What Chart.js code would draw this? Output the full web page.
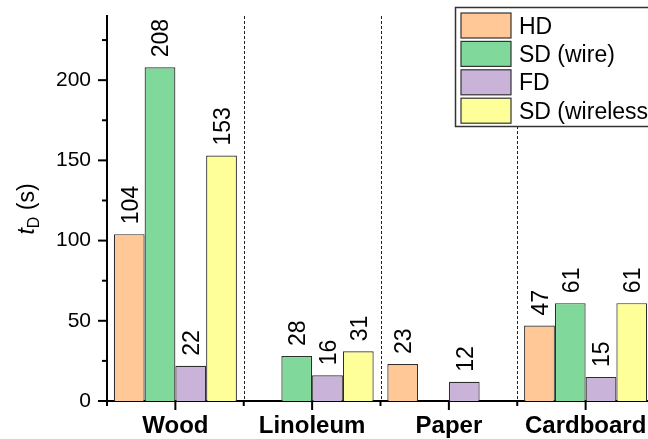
<!DOCTYPE html>
<html>
<head>
<meta charset="utf-8">
<script src="https://cdn.jsdelivr.net/npm/chart.js@4/dist/chart.umd.min.js"></script>
<style>
  html, body { margin: 0; padding: 0; overflow: hidden; background: #fff; }
  canvas { display: block; }
</style>
</head>
<body>
<canvas id="chart" width="660" height="439"></canvas>
<script>
// Detachment time per surface and detection method
const categories = ['Wood', 'Linoleum', 'Paper', 'Cardboard'];
const seriesNames = ['HD', 'SD (wire)', 'FD', 'SD (wireless)'];
const hdValues = [104, null, 23, 47];
const sdWireValues = [208, 28, null, 61];
const fdValues = [22, 16, 12, 15];
const sdWirelessValues = [153, 31, null, 61];
const yMajorTicks = [0, 50, 100, 150, 200];
const yMinorTicks = [25, 75, 125, 175, 225];
const yMax = 240;

const seriesColors = ['#FFC896', '#80D99B', '#C9B3D8', '#FFFF99'];
const seriesValues = [hdValues, sdWireValues, fdValues, sdWirelessValues];

const FONT = '"Liberation Sans", Arial, Helvetica, sans-serif';
const INK = '#000';

// Axis tick marks, dashed group separators, value labels, legend and y title
const decorations = {
  id: 'decorations',
  afterDatasetsDraw(chart) {
    const ctx = chart.ctx;
    const area = chart.chartArea;
    const xs = chart.scales.x;
    const ys = chart.scales.y;

    ctx.save();
    // dashed separators between surface groups
    ctx.strokeStyle = '#222';
    ctx.lineWidth = 1;
    ctx.setLineDash([3, 2]);
    for (let i = 0; i < categories.length - 1; i++) {
      const x = Math.round((xs.getPixelForValue(i) + xs.getPixelForValue(i + 1)) / 2) + 0.5;
      ctx.beginPath();
      ctx.moveTo(x, area.top);
      ctx.lineTo(x, area.bottom);
      ctx.stroke();
    }
    ctx.setLineDash([]);

    // y tick marks (major and minor, pointing outward)
    ctx.strokeStyle = INK;
    ctx.lineWidth = 2;
    const ax = area.left;
    yMajorTicks.forEach(v => {
      const y = ys.getPixelForValue(v);
      ctx.beginPath(); ctx.moveTo(ax - 9, y); ctx.lineTo(ax, y); ctx.stroke();
    });
    yMinorTicks.forEach(v => {
      const y = ys.getPixelForValue(v);
      ctx.beginPath(); ctx.moveTo(ax - 5, y); ctx.lineTo(ax, y); ctx.stroke();
    });

    // x tick marks: major at group centres, minor at group edges
    const by = area.bottom;
    categories.forEach((c, i) => {
      const x = xs.getPixelForValue(i);
      ctx.beginPath(); ctx.moveTo(x, by); ctx.lineTo(x, by + 9); ctx.stroke();
    });
    for (let i = 0; i <= categories.length; i++) {
      const x = i === 0 ? area.left
        : (i === categories.length ? area.right
          : (xs.getPixelForValue(i - 1) + xs.getPixelForValue(i)) / 2);
      ctx.beginPath(); ctx.moveTo(x, by); ctx.lineTo(x, by + 5); ctx.stroke();
    }

    // value labels above bars, rotated
    ctx.fillStyle = INK;
    ctx.font = '23px ' + FONT;
    ctx.textAlign = 'left';
    ctx.textBaseline = 'alphabetic';
    chart.data.datasets.forEach((ds, di) => {
      const meta = chart.getDatasetMeta(di);
      meta.data.forEach((bar, i) => {
        const v = ds.data[i];
        if (v === null || v === undefined) return;
        ctx.save();
        ctx.translate(bar.x, bar.y - 10);
        ctx.rotate(-Math.PI / 2);
        ctx.fillText(String(v), 0, 8.3);
        ctx.restore();
      });
    });

    // legend box
    const lx = 455, ly = 7, lh = 119;
    ctx.fillStyle = '#fff';
    ctx.fillRect(lx, ly, chart.width - lx + 10, lh);
    ctx.strokeStyle = '#333';
    ctx.lineWidth = 1.5;
    ctx.strokeRect(lx + 0.5, ly + 0.5, chart.width, lh);
    chart.data.datasets.forEach((ds, di) => {
      const sy = 13 + di * 28.4;
      ctx.fillStyle = ds.backgroundColor;
      ctx.fillRect(461, sy, 50, 25);
      ctx.strokeStyle = '#333';
      ctx.lineWidth = 1.2;
      ctx.strokeRect(461, sy, 50, 25);
      ctx.fillStyle = INK;
      ctx.font = '23px ' + FONT;
      ctx.textBaseline = 'alphabetic';
      ctx.fillText(ds.label, 519, sy + 20.5);
    });

    // y axis title: t_D (s)
    ctx.save();
    ctx.translate(34, 209);
    ctx.rotate(-Math.PI / 2);
    ctx.textBaseline = 'alphabetic';
    ctx.fillStyle = INK;
    const fMain = '23px ' + FONT, fItal = 'italic 23px ' + FONT, fSub = '16px ' + FONT;
    ctx.font = fItal; const wT = ctx.measureText('t').width;
    ctx.font = fSub; const wD = ctx.measureText('D').width;
    ctx.font = fMain; const wS = ctx.measureText(' (s)').width;
    let tx = -(wT + wD + wS) / 2;
    ctx.font = fItal; ctx.fillText('t', tx, 0); tx += wT;
    ctx.font = fSub; ctx.fillText('D', tx, 5); tx += wD;
    ctx.font = fMain; ctx.fillText(' (s)', tx, 0);
    ctx.restore();

    ctx.restore();
  }
};

new Chart(document.getElementById('chart'), {
  type: 'bar',
  data: {
    labels: categories,
    datasets: seriesNames.map((name, i) => ({
      label: name,
      data: seriesValues[i],
      backgroundColor: seriesColors[i],
      borderColor: '#2e2e2e',
      borderWidth: 1.2,
      categoryPercentage: 0.9,
      barPercentage: 1.0
    }))
  },
  options: {
    responsive: false,
    animation: false,
    devicePixelRatio: 1,
    layout: { padding: { top: 16, right: 6, left: 0, bottom: 0 } },
    plugins: { legend: { display: false }, tooltip: { enabled: false } },
    scales: {
      x: {
        grid: { display: false, drawTicks: false },
        border: { display: true, color: INK, width: 2 },
        ticks: { color: INK, padding: 11, font: { family: FONT, size: 24, weight: 'bold' } },
        afterFit(scale) {
          scale.height = 38;
          scale.paddingLeft = 0;
          scale.paddingRight = 0;
        }
      },
      y: {
        min: 0,
        max: yMax,
        grid: { display: false, drawTicks: false },
        border: { display: true, color: INK, width: 2 },
        ticks: {
          color: INK,
          padding: 16,
          font: { family: FONT, size: 21 },
          stepSize: 50,
          callback: v => (yMajorTicks.includes(v) ? String(v) : '')
        },
        afterFit(scale) {
          scale.width = 107;
          scale.paddingTop = 0;
          scale.paddingBottom = 0;
        }
      }
    }
  },
  plugins: [decorations]
});
</script>
</body>
</html>
